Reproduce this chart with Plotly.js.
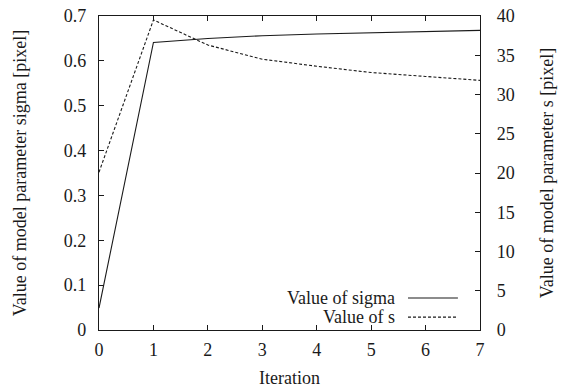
<!DOCTYPE html>
<html>
<head>
<meta charset="utf-8">
<script src="https://cdn.plot.ly/plotly-3.0.1.min.js"></script>
<style>html,body{margin:0;padding:0;background:#fff;}#chart{width:562px;height:389px;}</style>
</head>
<body>
<div id="chart"></div>
<script>
const iterations = [0, 1, 2, 3, 4, 5, 6, 7];
const sigmaValues = [0.049, 0.641, 0.650, 0.656, 0.660, 0.663, 0.665, 0.668];
const sValues = [20.1, 39.5, 36.3, 34.5, 33.6, 32.8, 32.3, 31.8];
const xTicks = [0, 1, 2, 3, 4, 5, 6, 7];
const leftTicks = [0, 0.1, 0.2, 0.3, 0.4, 0.5, 0.6, 0.7];
const leftTickLabels = ['0', '0.1', '0.2', '0.3', '0.4', '0.5', '0.6', '0.7'];
const rightTicks = [0, 5, 10, 15, 20, 25, 30, 35, 40];
const seriesNames = ['Value of sigma', 'Value of s'];

const FONT = '"Liberation Serif", "Times New Roman", serif';
const COL = '#1a1a1a';
const FS = 18;

const traces = [
  {x: iterations, y: sigmaValues, type: 'scatter', mode: 'lines', name: seriesNames[0],
   line: {color: COL, width: 1.1}, yaxis: 'y', showlegend: false},
  {x: iterations, y: sValues, type: 'scatter', mode: 'lines', name: seriesNames[1],
   line: {color: COL, width: 1.1, dash: '3px,2px'}, yaxis: 'y2', showlegend: false}
];

const axisCommon = {
  showgrid: false, zeroline: false, showline: true, linecolor: COL, linewidth: 1.2,
  ticks: 'inside', ticklen: 5, tickwidth: 1, tickcolor: COL,
  tickfont: {family: FONT, size: FS, color: COL}
};

const layout = {
  width: 562, height: 389,
  margin: {l: 99, r: 82, t: 16, b: 59},
  paper_bgcolor: '#fff', plot_bgcolor: '#fff',
  font: {family: FONT, color: COL},
  xaxis: Object.assign({}, axisCommon, {
    range: [0, 7], tickvals: xTicks, ticktext: xTicks.map(String), mirror: 'ticks',
    ticklabelstandoff: 3,
    title: {text: 'Iteration', font: {family: FONT, size: FS, color: COL}, standoff: 12}
  }),
  yaxis: Object.assign({}, axisCommon, {
    range: [0, 0.7], tickvals: leftTicks, ticktext: leftTickLabels,
    ticklabelstandoff: 8,
    title: {text: 'Value of model parameter sigma [pixel]', font: {family: FONT, size: FS, color: COL}, standoff: 32}
  }),
  yaxis2: Object.assign({}, axisCommon, {
    range: [0, 40], tickvals: rightTicks, ticktext: rightTicks.map(String),
    overlaying: 'y', side: 'right', ticklabelstandoff: 12,
    title: {text: 'Value of model parameter s [pixel]', font: {family: FONT, size: FS, color: COL}, standoff: 26}
  }),
  annotations: [
    {xref: 'paper', yref: 'paper', x: 0.782, y: 0.102, xanchor: 'right', yanchor: 'middle',
     text: seriesNames[0], showarrow: false, font: {family: FONT, size: FS, color: COL}},
    {xref: 'paper', yref: 'paper', x: 0.782, y: 0.041, xanchor: 'right', yanchor: 'middle',
     text: seriesNames[1], showarrow: false, font: {family: FONT, size: FS, color: COL}}
  ],
  shapes: [
    {type: 'line', xref: 'paper', yref: 'paper', x0: 0.811, x1: 0.942, y0: 0.102, y1: 0.102,
     line: {color: COL, width: 1.1}},
    {type: 'line', xref: 'paper', yref: 'paper', x0: 0.811, x1: 0.942, y0: 0.041, y1: 0.041,
     line: {color: COL, width: 1.1, dash: '3px,2px'}}
  ]
};

Plotly.newPlot('chart', traces, layout, {staticPlot: true, displayModeBar: false});
</script>
</body>
</html>
